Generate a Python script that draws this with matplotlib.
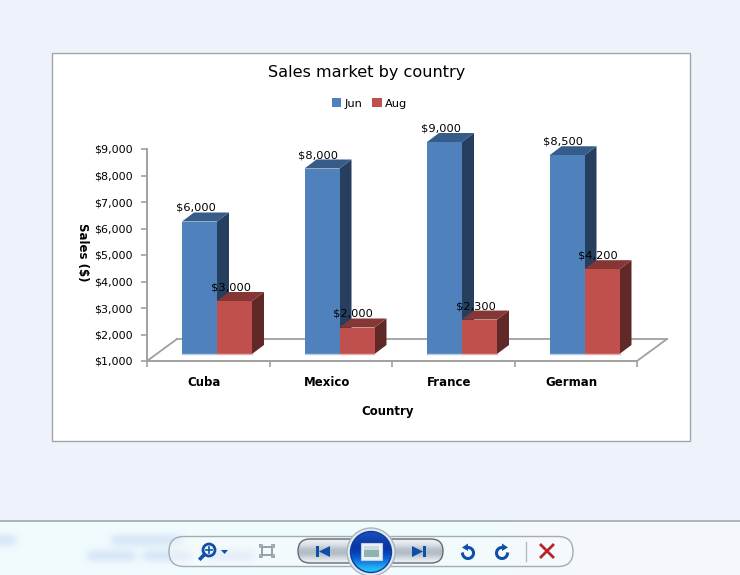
import numpy as np
import matplotlib
matplotlib.use('Agg')
import matplotlib.pyplot as plt
from matplotlib.patches import Rectangle, Polygon, Circle, FancyBboxPatch
from matplotlib.transforms import ScaledTranslation

countries = ['Cuba', 'Mexico', 'France', 'German']
jun = [6000, 8000, 9000, 8500]
aug = [3000, 2000, 2300, 4200]
y_ticks = [1000, 2000, 3000, 4000, 5000, 6000, 7000, 8000, 9000]

W, H = 740, 575
fig = plt.figure(figsize=(W / 100, H / 100), dpi=100, facecolor='#EEF2FB')

# window chrome drawn in pixel coordinates
bg = fig.add_axes([0, 0, 1, 1])
bg.axis('off')

bg.add_patch(Rectangle((51.5, 52.5), 638.5, 388.5, fc='white', ec='#A2A6AA', lw=1))

# blurred strip behind the toolbar
strip = np.zeros((7, 93, 3))
strip[:] = (0.945, 0.985, 0.995)
strip[:, 64:] = (0.96, 0.97, 0.99)
for x0, x1, row in [(0, 2, 2), (14, 23, 2), (11, 17, 4), (18, 24, 4), (26, 32, 4)]:
    strip[row, x0:x1] = (0.80, 0.87, 0.96)
bg.imshow(strip, extent=(0, W, H, 521), aspect='auto', interpolation='bicubic', zorder=1)
bg.set_xlim(0, W)
bg.set_ylim(H, 0)
bg.plot([0, W], [520.5, 520.5], color='#A5A8AD', lw=1.2, zorder=2)

# toolbar pill and the silver button
bg.add_patch(FancyBboxPatch((184, 551.5), 374, 0.01, boxstyle='round,pad=15,rounding_size=15',
                            fc=(0.97, 0.98, 0.99, 0.45), ec='#A3ABB5', lw=1, zorder=3))
btn = FancyBboxPatch((310, 551), 121, 0.01, boxstyle='round,pad=12,rounding_size=12',
                     fc='none', ec='#5F6B76', lw=1, zorder=4)
bg.add_patch(btn)
silver = np.array([[0.93, 0.94, 0.95], [0.86, 0.88, 0.90], [0.72, 0.76, 0.79], [0.68, 0.72, 0.76],
                   [0.80, 0.83, 0.86], [0.92, 0.94, 0.95]])[:, None, :]
im = bg.imshow(silver, extent=(298, 443, 563, 539), aspect='auto', interpolation='bicubic', zorder=3)
im.set_clip_path(btn)

# centre button
bg.add_patch(Circle((371, 552), 24, fc='#E3EAF2', ec='#A9B4C0', lw=1, zorder=5))
disc = Circle((371, 552), 20.5, fc='none', ec='#0B3F9A', lw=1, zorder=7)
bg.add_patch(disc)
blue = np.array([[0.10, 0.30, 0.72], [0.05, 0.25, 0.68], [0.02, 0.20, 0.62], [0.03, 0.30, 0.78],
                 [0.08, 0.50, 0.90], [0.15, 0.78, 0.97]])[:, None, :]
im2 = bg.imshow(blue, extent=(350, 392, 573, 531), aspect='auto', interpolation='bicubic', zorder=6)
im2.set_clip_path(disc)
bg.add_patch(Rectangle((360.5, 543), 21, 17, fc='#EDF1F5', ec='#C4CED8', lw=0.8, zorder=8))
bg.add_patch(Rectangle((363.5, 546), 15, 10.5, fc='#8DB3AC', ec='none', zorder=9))
bg.add_patch(Rectangle((363.5, 546), 15, 4, fc='#C9DCE6', ec='none', zorder=9))

icon = '#0F4FA8'
bg.add_patch(Rectangle((316, 546), 2.5, 11, fc=icon, ec='none', zorder=6))
bg.add_patch(Polygon([(330, 546), (330, 557), (319, 551.5)], fc=icon, ec='none', zorder=6))
bg.add_patch(Rectangle((423, 546), 2.5, 11, fc=icon, ec='none', zorder=6))
bg.add_patch(Polygon([(412, 546), (412, 557), (423, 551.5)], fc=icon, ec='none', zorder=6))

bg.add_patch(Circle((209, 550), 6, fc='#EAF4FB', ec=icon, lw=2, zorder=6))
bg.plot([204.5, 200.5], [554.5, 558.5], color=icon, lw=2.6, zorder=6)
bg.plot([206, 212], [550, 550], color=icon, lw=1.2, zorder=7)
bg.plot([209, 209], [547, 553], color=icon, lw=1.2, zorder=7)
bg.add_patch(Polygon([(221, 550), (228, 550), (224.5, 554)], fc=icon, ec='none', zorder=6))
bg.add_patch(Rectangle((262, 547), 10, 8, fc='none', ec='#8E9AA3', lw=1.3, zorder=6))
for cx, sy in [(260, 545), (274, 545), (260, 557), (274, 557)]:
    bg.plot([cx, cx + (2 if cx < 267 else -2)], [sy, sy], color='#9AA5AE', lw=1.3, zorder=6)
    bg.plot([cx, cx], [sy, sy + (2 if sy < 551 else -2)], color='#9AA5AE', lw=1.3, zorder=6)

# rotate arrows, one mirrored from the other
a = np.radians(np.linspace(90, -170, 40))
bg.plot(468 + 5.5 * np.cos(a), 553 - 5.5 * np.sin(a), color=icon, lw=2.2, zorder=6)
bg.add_patch(Polygon([(462, 547.5), (468, 543.5), (468, 551)], fc=icon, ec='none', zorder=6))
bg.plot(502 - 5.5 * np.cos(a), 553 - 5.5 * np.sin(a), color=icon, lw=2.2, zorder=6)
bg.add_patch(Polygon([(508, 547.5), (502, 543.5), (502, 551)], fc=icon, ec='none', zorder=6))
bg.plot([525.5, 525.5], [542, 561], color='#B4BBC2', lw=1, zorder=6)
bg.plot([541, 553], [545, 557], color='#B5252A', lw=2, zorder=6)
bg.plot([553, 541], [545, 557], color='#B5252A', lw=2, zorder=6)
bg.set_xlim(0, W)
bg.set_ylim(H, 0)

# chart axes: x in category bands, y in dollars
ax = fig.add_axes([147 / W, 1 - 361 / H, 490 / W, 212 / H], facecolor='none')
ax.set_xlim(0, 4)
ax.set_ylim(1000, 9000)
for s in ['top', 'right']:
    ax.spines[s].set_visible(False)
for s in ['left', 'bottom']:
    ax.spines[s].set_color('#A0A0A0')
    ax.spines[s].set_linewidth(1.4)
ax.set_yticks(y_ticks)
ax.set_yticklabels(['$' + format(v, ',') for v in y_ticks], fontsize=8, color='black')
ax.set_xticks(range(5))
ax.set_xticklabels([])
ax.tick_params(axis='both', color='#A0A0A0', width=1.2, length=4)
ax.tick_params(axis='y', pad=6)


def shift(px, py):
    return ax.transData + ScaledTranslation(px / 100, py / 100, fig.dpi_scale_trans)


DX, DY = 12, 9
Y0 = 7  # bars' front plane sits this far up from the axis plane
band = 122.5
bw = 35 / band
floor_dx = 30 / band
floor_y = 1000 + 22 * 8000 / 212

# floor
ax.plot([0, floor_dx], [1000, floor_y], color='#A0A0A0', lw=1.3, clip_on=False)
ax.plot([floor_dx, 4 + floor_dx], [floor_y, floor_y], color='#A0A0A0', lw=1.3, clip_on=False)
ax.plot([4, 4 + floor_dx], [1000, floor_y], color='#A0A0A0', lw=1.3, clip_on=False)

series = [(jun, 0, '#4F81BD', '#375C89', '#263F5F'), (aug, 1, '#C0504D', '#863735', '#602826')]
tr = shift(0, Y0)
for i in range(len(countries)):
    left = i + 35 / band
    for vals, k, front, top, side in series:
        x = left + k * bw
        v = vals[i]
        dx = DX / band
        dy = DY * 8000 / 212
        ax.add_patch(Polygon([(x + bw, 1000), (x + bw + dx, 1000 + dy), (x + bw + dx, v + dy), (x + bw, v)],
                             fc=side, ec='none', transform=tr, clip_on=False, zorder=3 + k))
        ax.add_patch(Polygon([(x, v), (x + dx, v + dy), (x + bw + dx, v + dy), (x + bw, v)],
                             fc=top, ec='none', transform=tr, clip_on=False, zorder=3 + k))
        ax.add_patch(Rectangle((x, 1000), bw, v - 1000, fc=front, ec='none',
                               transform=tr, clip_on=False, zorder=3 + k))
        ax.plot([x, x + bw], [1000, 1000], color='#B4CDE6' if k == 0 else '#E3B3B1', lw=1,
                transform=tr, clip_on=False, zorder=3 + k)
        ax.annotate('$' + format(v, ','), (x + bw / 2, v), xytext=(-4 * 0.72, 20.5 * 0.72),
                    textcoords='offset points', ha='center', va='center', fontsize=8.2,
                    annotation_clip=False, zorder=10)

for i, name in enumerate(countries):
    ax.annotate(name, (i + 0.5, 0), xycoords=('data', 'axes fraction'), xytext=(-4 * 0.72, -21 * 0.72),
                textcoords='offset points', ha='center', va='center', fontsize=8.5, fontweight='bold')

fig.text(388 / W, 1 - 412 / H, 'Country', ha='center', va='center', fontsize=8.5, fontweight='bold')
fig.text(83 / W, 1 - 252 / H, 'Sales ($)', ha='center', va='center', rotation=-90, fontsize=8.5, fontweight='bold')
fig.text(367 / W, 1 - 72 / H, 'Sales market by country', ha='center', va='center', fontsize=11.6)

handles = [Rectangle((0, 0), 1, 1, fc='#4F81BD'), Rectangle((0, 0), 1, 1, fc='#C0504D')]
fig.legend(handles, ['Jun', 'Aug'], loc='center', bbox_to_anchor=(369.5 / W, 1 - 103.5 / H), ncol=2, frameon=False,
           fontsize=8.2, handlelength=0.8, handleheight=0.8, handletextpad=0.3, columnspacing=0.9)

fig.savefig('out.png', dpi=100, facecolor=fig.get_facecolor())
